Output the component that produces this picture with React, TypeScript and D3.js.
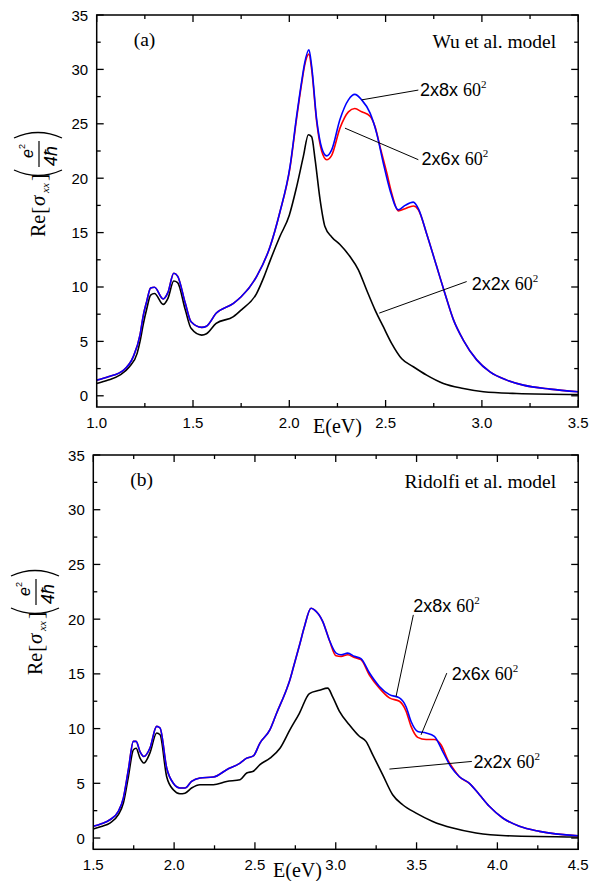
import React from "react";
import * as d3 from "d3";

const W = 592;
const H = 881;

const SANS = "'Liberation Sans', Arial, sans-serif";
const SERIF = "'Liberation Serif', 'Times New Roman', serif";

// ---------- panel (a): Wu et al. model, E (eV) vs Re[sigma_xx] ----------
const wu2x2: [number, number][] = [
  [1.0, 1.13], [1.06, 1.45], [1.12, 1.9], [1.17, 2.67], [1.21, 3.9], [1.225, 5.0],
  [1.242, 6.6], [1.26, 8.0], [1.28, 9.26], [1.3, 9.4], [1.345, 8.4], [1.37, 8.96],
  [1.4, 10.55], [1.42, 10.4], [1.46, 7.9], [1.49, 6.2], [1.545, 5.58], [1.57, 5.7],
  [1.62, 6.65], [1.71, 7.27], [1.75, 7.88], [1.83, 9.4], [1.87, 11.0], [1.9, 12.4],
  [1.95, 14.6], [2.0, 16.6], [2.038, 19.2], [2.073, 22.0], [2.099, 24.0], [2.116, 23.8],
  [2.134, 21.7], [2.16, 18.0], [2.185, 15.55], [2.22, 14.6], [2.263, 13.9], [2.315, 12.8],
  [2.358, 11.6], [2.402, 9.7], [2.445, 7.9], [2.488, 6.35], [2.532, 4.8], [2.584, 3.4],
  [2.644, 2.67], [2.713, 1.9], [2.8, 1.13], [2.904, 0.67], [3.008, 0.37], [3.18, 0.21],
  [3.5, 0.12],
];

const wu2x6: [number, number][] = [
  [1.0, 1.44], [1.06, 1.75], [1.14, 2.36], [1.19, 3.6], [1.225, 5.6], [1.242, 7.4],
  [1.26, 8.7], [1.28, 9.9], [1.3, 9.97], [1.345, 8.9], [1.37, 9.5], [1.4, 11.26],
  [1.42, 11.0], [1.46, 8.5], [1.49, 6.8], [1.545, 6.29], [1.57, 6.4], [1.62, 7.58],
  [1.71, 8.5], [1.75, 9.1], [1.83, 10.95], [1.9, 13.7], [1.95, 16.8], [2.004, 21.0],
  [2.038, 25.5], [2.065, 28.8], [2.08, 30.4], [2.102, 31.4], [2.116, 30.0], [2.142, 25.2],
  [2.168, 22.5], [2.194, 21.7], [2.22, 22.1], [2.263, 24.6], [2.307, 26.1], [2.34, 26.4],
  [2.376, 26.1], [2.419, 25.7], [2.445, 24.75], [2.471, 22.9], [2.506, 20.5], [2.532, 18.6],
  [2.566, 17.0], [2.601, 17.2], [2.644, 17.45], [2.67, 17.1], [2.713, 14.9], [2.765, 11.9],
  [2.808, 9.4], [2.852, 7.0], [2.904, 5.1], [2.973, 3.3], [3.042, 2.2], [3.129, 1.44],
  [3.215, 0.98], [3.354, 0.61], [3.5, 0.37],
];

const wu2x8: [number, number][] = [
  [1.0, 1.44], [1.06, 1.75], [1.14, 2.36], [1.19, 3.6], [1.225, 5.6], [1.242, 7.4],
  [1.26, 8.7], [1.28, 9.9], [1.3, 9.97], [1.345, 8.9], [1.37, 9.5], [1.4, 11.26],
  [1.42, 11.0], [1.46, 8.5], [1.49, 6.8], [1.545, 6.29], [1.57, 6.4], [1.62, 7.58],
  [1.71, 8.5], [1.75, 9.1], [1.83, 10.95], [1.9, 13.7], [1.95, 16.8], [2.004, 21.1],
  [2.038, 25.7], [2.065, 29.0], [2.08, 30.6], [2.102, 31.8], [2.116, 30.3], [2.142, 25.4],
  [2.168, 22.8], [2.194, 22.05], [2.22, 22.6], [2.263, 25.4], [2.307, 27.2], [2.34, 27.7],
  [2.376, 27.2], [2.419, 26.0], [2.454, 24.1], [2.488, 21.4], [2.523, 18.9], [2.566, 17.1],
  [2.601, 17.5], [2.644, 17.8], [2.67, 17.2], [2.713, 14.9], [2.765, 11.9], [2.808, 9.4],
  [2.852, 7.0], [2.904, 5.1], [2.973, 3.3], [3.042, 2.2], [3.129, 1.44], [3.215, 0.98],
  [3.354, 0.61], [3.5, 0.37],
];

// ---------- panel (b): Ridolfi et al. model ----------
const ridolfi2x2: [number, number][] = [
  [1.5, 0.82], [1.55, 1.05], [1.603, 1.37], [1.655, 2.13], [1.686, 3.2], [1.717, 5.6],
  [1.748, 8.07], [1.765, 8.2], [1.789, 7.3], [1.813, 6.85], [1.85, 7.76], [1.892, 9.6],
  [1.913, 9.44], [1.954, 5.6], [1.995, 4.41], [2.036, 4.05], [2.067, 4.1], [2.108, 4.57],
  [2.16, 4.87], [2.243, 4.87], [2.325, 5.17], [2.408, 5.33], [2.449, 5.94], [2.49, 6.1],
  [2.531, 6.7], [2.593, 7.3], [2.655, 8.2], [2.717, 9.9], [2.775, 11.4], [2.837, 13.2],
  [2.899, 13.5], [2.95, 13.7], [2.981, 12.9], [3.022, 11.6], [3.084, 10.35], [3.146, 9.3],
  [3.187, 8.83], [3.229, 7.6], [3.29, 5.8], [3.352, 3.96], [3.414, 3.04], [3.497, 2.28],
  [3.6, 1.52], [3.724, 0.91], [3.868, 0.46], [4.054, 0.21], [4.5, 0.09],
];

const ridolfi2x6: [number, number][] = [
  [1.5, 1.07], [1.55, 1.3], [1.603, 1.67], [1.655, 2.43], [1.686, 3.65], [1.717, 6.24],
  [1.748, 8.83], [1.765, 8.83], [1.789, 7.9], [1.813, 7.45], [1.85, 8.2], [1.892, 10.2],
  [1.913, 10.05], [1.954, 6.4], [1.995, 5.0], [2.036, 4.57], [2.067, 4.57], [2.108, 5.17],
  [2.16, 5.48], [2.243, 5.57], [2.325, 6.24], [2.408, 6.85], [2.449, 7.3], [2.49, 7.5],
  [2.531, 8.68], [2.593, 9.9], [2.634, 11.4], [2.696, 13.6], [2.713, 14.3], [2.738, 15.6],
  [2.779, 17.8], [2.806, 19.3], [2.847, 21.0], [2.868, 20.85], [2.919, 19.8], [2.96, 18.1],
  [3.002, 16.65], [3.033, 16.6], [3.074, 16.75], [3.115, 16.5], [3.156, 16.3], [3.208, 14.9],
  [3.27, 13.7], [3.332, 12.8], [3.394, 12.5], [3.435, 11.6], [3.466, 10.2], [3.507, 9.2],
  [3.559, 9.0], [3.61, 9.0], [3.652, 8.5], [3.693, 7.15], [3.724, 6.4], [3.765, 5.6],
  [3.827, 5.0], [3.889, 3.96], [3.95, 2.9], [4.033, 1.83], [4.136, 1.07], [4.26, 0.61],
  [4.5, 0.21],
];

const ridolfi2x8: [number, number][] = [
  [1.5, 1.07], [1.55, 1.3], [1.603, 1.67], [1.655, 2.43], [1.686, 3.65], [1.717, 6.24],
  [1.748, 8.83], [1.765, 8.83], [1.789, 7.9], [1.813, 7.45], [1.85, 8.2], [1.892, 10.2],
  [1.913, 10.05], [1.954, 6.4], [1.995, 5.0], [2.036, 4.57], [2.067, 4.57], [2.108, 5.17],
  [2.16, 5.48], [2.243, 5.57], [2.325, 6.24], [2.408, 6.85], [2.449, 7.3], [2.49, 7.5],
  [2.531, 8.68], [2.593, 9.9], [2.634, 11.4], [2.696, 13.6], [2.713, 14.3], [2.738, 15.6],
  [2.779, 17.8], [2.806, 19.3], [2.847, 21.0], [2.868, 20.85], [2.919, 19.8], [2.96, 18.1],
  [3.002, 16.9], [3.033, 16.75], [3.074, 16.9], [3.115, 16.6], [3.156, 16.4], [3.208, 15.1],
  [3.27, 13.85], [3.332, 13.1], [3.394, 12.8], [3.435, 12.0], [3.466, 10.65], [3.507, 9.74],
  [3.559, 9.6], [3.61, 9.3], [3.662, 7.9], [3.713, 6.5], [3.765, 5.6], [3.827, 5.0],
  [3.889, 3.96], [3.95, 2.9], [4.033, 1.83], [4.136, 1.07], [4.26, 0.61], [4.5, 0.21],
];

// supercell sizes used in the labels
const cellLabels = ["2x2x ", "2x6x ", "2x8x "];
const seriesColors = ["#000000", "#ff0000", "#0000ff"];

// axis ticks
const yMajor = [0, 5, 10, 15, 20, 25, 30, 35];
const yMinor = [2.5, 7.5, 12.5, 17.5, 22.5, 27.5, 32.5];
const xMajorA = [1.0, 1.5, 2.0, 2.5, 3.0, 3.5];
const xMinorA = [1.25, 1.75, 2.25, 2.75, 3.25];
const xMajorB = [1.5, 2.0, 2.5, 3.0, 3.5, 4.0, 4.5];
const xMinorB = [1.75, 2.25, 2.75, 3.25, 3.75, 4.25];

// leader lines [from E, from value, to E, to value] in data units, per label
const leadersA: [number, number, number, number][] = [
  [2.467, 7.6, 2.921, 10.5],
  [2.289, 24.6, 2.67, 21.7],
  [2.376, 27.2, 2.67, 28.1],
];
const labelAtA: [number, number][] = [
  [2.947, 9.73],
  [2.687, 21.2],
  [2.679, 27.6],
];
const leadersB: [number, number, number, number][] = [
  [3.332, 6.3, 3.842, 7.0],
  [3.528, 9.43, 3.687, 15.07],
  [3.373, 12.93, 3.48, 20.39],
];
const labelAtB: [number, number][] = [
  [3.852, 6.42],
  [3.718, 14.46],
  [3.48, 20.67],
];

type Frame = { left: number; right: number; top: number; bottom: number };

const MAJ = 7;
const MIN = 4;

function YTitle({ bx, by }: { bx: number; by: number }) {
  // drawn along +x, then rotated to read bottom-to-top
  const parenL = "M 67 -31 Q 56 -7 67 17";
  const parenR = "M 99 -31 Q 110 -7 99 17";
  return (
    <g transform={`translate(${bx},${by}) rotate(-90)`}>
      <text x={0} y={0} fontFamily={SERIF} fontSize={20}>Re</text>
      <text x={23} y={1} fontFamily={SERIF} fontSize={22}>[</text>
      <text x={31} y={0} fontFamily={SERIF} fontSize={21} fontStyle="italic">σ</text>
      <text x={44} y={4} fontFamily={SERIF} fontSize={11} fontStyle="italic">xx</text>
      <text x={56} y={1} fontFamily={SERIF} fontSize={22}>]</text>
      <path d={parenL} fill="none" stroke="#000" strokeWidth={1.3} />
      <path d={parenR} fill="none" stroke="#000" strokeWidth={1.3} />
      <text x={79} y={-12} fontFamily={SANS} fontSize={16} fontStyle="italic">e</text>
      <text x={88} y={-20} fontFamily={SANS} fontSize={9}>2</text>
      <line x1={70} x2={96} y1={-6} y2={-6} stroke="#000" strokeWidth={1.2} />
      <text x={71} y={12} fontFamily={SANS} fontSize={18} fontStyle="italic">4ħ</text>
    </g>
  );
}

function CellLabel({ x, y, text }: { x: number; y: number; text: string }) {
  return (
    <text x={x} y={y} fontSize={18}>
      <tspan fontFamily={SANS}>{text}</tspan>
      <tspan fontFamily={SERIF}>60</tspan>
      <tspan fontFamily={SERIF} fontSize={11} dy={-8}>2</tspan>
    </text>
  );
}

function Panel(props: {
  id: string;
  frame: Frame;
  xDomain: [number, number];
  xMajor: number[];
  xMinor: number[];
  series: [number, number][][];
  leaders: [number, number, number, number][];
  labelAt: [number, number][];
  tag: string;
  model: string;
  xTitleX: number;
  xTitleY: number;
  yTitle: { bx: number; by: number };
}) {
  const { frame: f } = props;
  const x = d3.scaleLinear().domain(props.xDomain).range([f.left, f.right]);
  const y = d3.scaleLinear().domain([-1.03, 35]).range([f.bottom, f.top]);
  const line = d3
    .line<[number, number]>()
    .x((d) => x(d[0]))
    .y((d) => y(d[1]))
    .curve(d3.curveMonotoneX);

  const ticks: JSX.Element[] = [];
  props.xMajor.concat(props.xMinor).forEach((v, i) => {
    const len = props.xMajor.includes(v) ? MAJ : MIN;
    const px = x(v);
    ticks.push(<line key={`xb${i}`} x1={px} x2={px} y1={f.bottom} y2={f.bottom - len} />);
    ticks.push(<line key={`xt${i}`} x1={px} x2={px} y1={f.top} y2={f.top + len} />);
  });
  yMajor.concat(yMinor).forEach((v, i) => {
    const len = yMajor.includes(v) ? MAJ : MIN;
    const py = y(v);
    ticks.push(<line key={`yl${i}`} x1={f.left} x2={f.left + len} y1={py} y2={py} />);
    ticks.push(<line key={`yr${i}`} x1={f.right} x2={f.right - len} y1={py} y2={py} />);
  });

  return (
    <g>
      <defs>
        <clipPath id={props.id}>
          <rect x={f.left} y={f.top} width={f.right - f.left} height={f.bottom - f.top} />
        </clipPath>
      </defs>
      <g clipPath={`url(#${props.id})`} fill="none" strokeWidth={1.6} strokeLinejoin="round">
        {props.series.map((s, i) => (
          <path key={i} d={line(s) || ""} stroke={seriesColors[i]} />
        ))}
      </g>
      <g stroke="#000" strokeWidth={1}>
        {props.leaders.map((l, i) => (
          <line key={i} x1={x(l[0])} y1={y(l[1])} x2={x(l[2])} y2={y(l[3])} />
        ))}
      </g>
      {props.labelAt.map((p, i) => (
        <CellLabel key={i} x={x(p[0])} y={y(p[1])} text={cellLabels[i]} />
      ))}
      <rect
        x={f.left}
        y={f.top}
        width={f.right - f.left}
        height={f.bottom - f.top}
        fill="none"
        stroke="#000"
        strokeWidth={1.5}
      />
      <g stroke="#000" strokeWidth={1.3}>{ticks}</g>
      <g fontFamily={SANS} fontSize={15} fill="#000">
        {props.xMajor.map((v) => (
          <text key={v} x={x(v)} y={f.bottom + 20.5} textAnchor="middle">
            {d3.format(".1f")(v)}
          </text>
        ))}
        {yMajor.map((v) => (
          <text key={v} x={f.left - 8.5} y={y(v) + 5.5} textAnchor="end">
            {v}
          </text>
        ))}
      </g>
      <text x={f.left + 37} y={f.top + 31} fontFamily={SERIF} fontSize={19.5}>
        {props.tag}
      </text>
      <text x={f.right - 22} y={f.top + 33} fontFamily={SERIF} fontSize={19.5} textAnchor="end">
        {props.model}
      </text>
      <text x={props.xTitleX} y={props.xTitleY} fontFamily={SERIF} fontSize={20}>
        E(eV)
      </text>
      <YTitle bx={props.yTitle.bx} by={props.yTitle.by} />
    </g>
  );
}

export default function App() {
  return (
    <svg
      width={W}
      height={H}
      viewBox={`0 0 ${W} ${H}`}
      style={{ position: "absolute", left: 0, top: 0, background: "#fff" }}
    >
      <rect width={W} height={H} fill="#fff" />
      <Panel
        id="clipA"
        frame={{ left: 96.7, right: 578.2, top: 15, bottom: 407 }}
        xDomain={[1.0, 3.5]}
        xMajor={xMajorA}
        xMinor={xMinorA}
        series={[wu2x2, wu2x6, wu2x8]}
        leaders={leadersA}
        labelAt={labelAtA}
        tag="(a)"
        model="Wu et al. model"
        xTitleX={313}
        xTitleY={433}
        yTitle={{ bx: 45, by: 237 }}
      />
      <Panel
        id="clipB"
        frame={{ left: 93.3, right: 578.2, top: 455, bottom: 849.3 }}
        xDomain={[1.5, 4.5]}
        xMajor={xMajorB}
        xMinor={xMinorB}
        series={[ridolfi2x2, ridolfi2x6, ridolfi2x8]}
        leaders={leadersB}
        labelAt={labelAtB}
        tag="(b)"
        model="Ridolfi et al. model"
        xTitleX={273}
        xTitleY={877}
        yTitle={{ bx: 42, by: 675 }}
      />
    </svg>
  );
}
